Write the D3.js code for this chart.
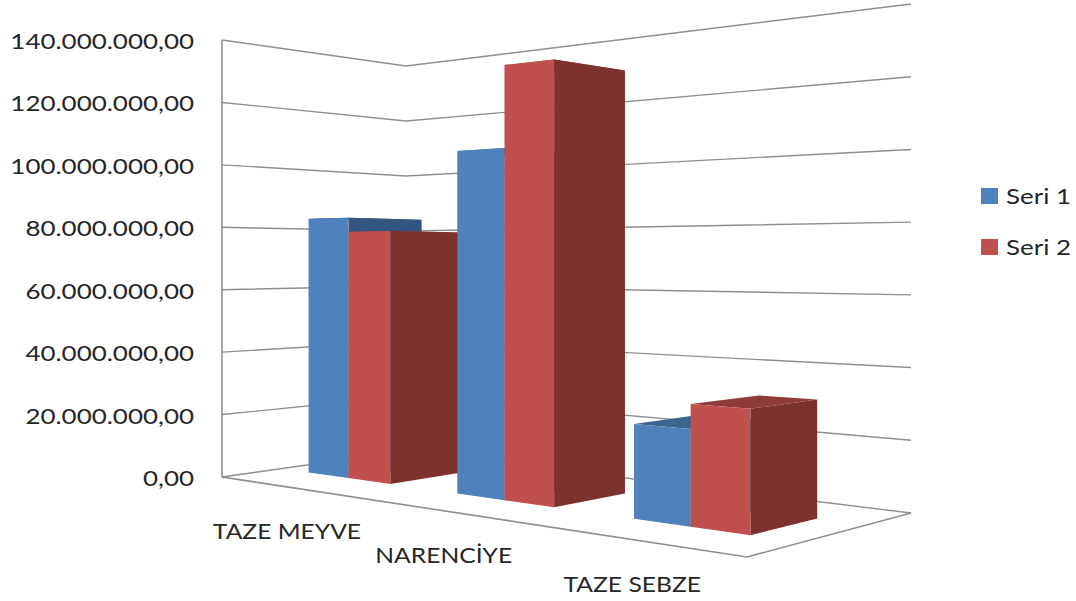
<!DOCTYPE html>
<html>
<head>
<meta charset="utf-8">
<script src="https://cdn.jsdelivr.net/npm/d3@7/dist/d3.min.js"></script>
<style>
  html, body { margin: 0; padding: 0; background: #fff; }
  text { font-family: Lato, "Open Sans", sans-serif; fill: #262626; }
</style>
</head>
<body>
<div id="chart"></div>
<script>
// chart values
const categories = ["TAZE MEYVE", "NARENCİYE", "TAZE SEBZE"];
const seriesNames = ["Seri 1", "Seri 2"];
const seri1 = [83000000, 102000000, 25500000];
const seri2 = [78500000, 126000000, 32000000];
const tickValues = [0, 20000000, 40000000, 60000000, 80000000, 100000000, 120000000, 140000000];
const tickLabels = ["0,00", "20.000.000,00", "40.000.000,00", "60.000.000,00", "80.000.000,00", "100.000.000,00", "120.000.000,00", "140.000.000,00"];

const width = 1076;
const height = 601;

const svg = d3.select("#chart")
  .append("svg")
  .attr("width", width)
  .attr("height", height)
  .style("display", "block");

// floor corners on screen: front left, front right, back right, back left
const floor = [[222, 477], [747, 557], [911, 513], [406, 451]];

// perspective map of the unit square onto the floor
const dx1 = floor[1][0] - floor[2][0], dx2 = floor[3][0] - floor[2][0];
const dy1 = floor[1][1] - floor[2][1], dy2 = floor[3][1] - floor[2][1];
const sx = floor[0][0] - floor[1][0] + floor[2][0] - floor[3][0];
const sy = floor[0][1] - floor[1][1] + floor[2][1] - floor[3][1];
const den = dx1 * dy2 - dx2 * dy1;
const g = (sx * dy2 - dx2 * sy) / den;
const h = (dx1 * sy - sx * dy1) / den;
const a = floor[1][0] - floor[0][0] + g * floor[1][0];
const b = floor[3][0] - floor[0][0] + h * floor[3][0];
const d = floor[1][1] - floor[0][1] + g * floor[1][1];
const e = floor[3][1] - floor[0][1] + h * floor[3][1];

// wall height in px shrinks with depth, it is linear in the floor's screen y
const wallHeight = y => 2 * y - 517;

const valueScale = d3.scaleLinear().domain([0, 140000000]).range([0, 1]);
const catScale = d3.scaleBand().domain(categories).range([-0.005, 0.995]).paddingInner(0.43).paddingOuter(0.215);
const serScale = d3.scaleBand().domain(seriesNames).range([0, catScale.bandwidth()]);
const depthScale = d3.scaleLinear().domain([0, 1]).range([0.3, 0.7]);

// u along the categories, v into the depth, val the data value
function project(u, v, val) {
  const w = g * u + h * v + 1;
  const x = (a * u + b * v + floor[0][0]) / w;
  const y = (d * u + e * v + floor[0][1]) / w;
  return [x, y - wallHeight(y) * valueScale(val)];
}

const line = d3.line();
const gridColor = "#8f8f8f";

// gridlines on the two walls
tickValues.forEach(t => {
  svg.append("path")
    .attr("d", line([project(0, 0, t), project(0, 1, t), project(1, 1, t)]))
    .attr("fill", "none")
    .attr("stroke", gridColor)
    .attr("stroke-width", 1.4);
});

// axis line and floor
svg.append("path")
  .attr("d", line([project(0, 0, 140000000), project(0, 0, 0), project(1, 0, 0), project(1, 1, 0)]))
  .attr("fill", "none")
  .attr("stroke", gridColor)
  .attr("stroke-width", 1.6);

// y labels
tickValues.forEach((t, i) => {
  const p = project(0, 0, t);
  svg.append("text")
    .attr("transform", `translate(194,${p[1] + 9}) scale(1.18,1)`)
    .attr("text-anchor", "end")
    .style("font-size", "22px")
    .text(tickLabels[i]);
});

// category labels
categories.forEach(c => {
  const p = project(catScale(c) + catScale.bandwidth() / 2, 0, 0);
  svg.append("text")
    .attr("transform", `translate(${p[0] - 2},${p[1] + 52}) scale(1.12,1)`)
    .attr("text-anchor", "middle")
    .style("font-size", "22px")
    .text(c);
});

const colors = {
  "Seri 1": { front: "#4f81bd", side: "#34557f", top: "#3c6590" },
  "Seri 2": { front: "#c0504d", side: "#7d3230", top: "#8f3b39" }
};

// draw the bars left to right so the nearer faces cover the sides
categories.forEach((c, i) => {
  [seri1, seri2].forEach((values, j) => {
    const name = seriesNames[j];
    const val = values[i];
    const u0 = catScale(c) + serScale(name);
    const u1 = u0 + serScale.bandwidth();
    const v0 = depthScale(0);
    const v1 = depthScale(1);
    const col = colors[name];

    const faces = [
      { fill: col.top, pts: [project(u0, v0, val), project(u1, v0, val), project(u1, v1, val), project(u0, v1, val)] },
      { fill: col.side, pts: [project(u1, v0, 0), project(u1, v1, 0), project(u1, v1, val), project(u1, v0, val)] },
      { fill: col.front, pts: [project(u0, v0, 0), project(u1, v0, 0), project(u1, v0, val), project(u0, v0, val)] }
    ];

    faces.forEach(f => {
      svg.append("path")
        .attr("d", line(f.pts) + "Z")
        .attr("fill", f.fill);
    });
  });
});

// legend
const legendY = d3.scalePoint().domain(seriesNames).range([196, 247]);
seriesNames.forEach(name => {
  svg.append("rect")
    .attr("x", 981)
    .attr("y", legendY(name) - 8)
    .attr("width", 17)
    .attr("height", 16)
    .attr("fill", colors[name].front);
  svg.append("text")
    .attr("transform", `translate(1006,${legendY(name) + 8}) scale(1.18,1)`)
    .style("font-size", "22px")
    .text(name);
});
</script>
</body>
</html>
